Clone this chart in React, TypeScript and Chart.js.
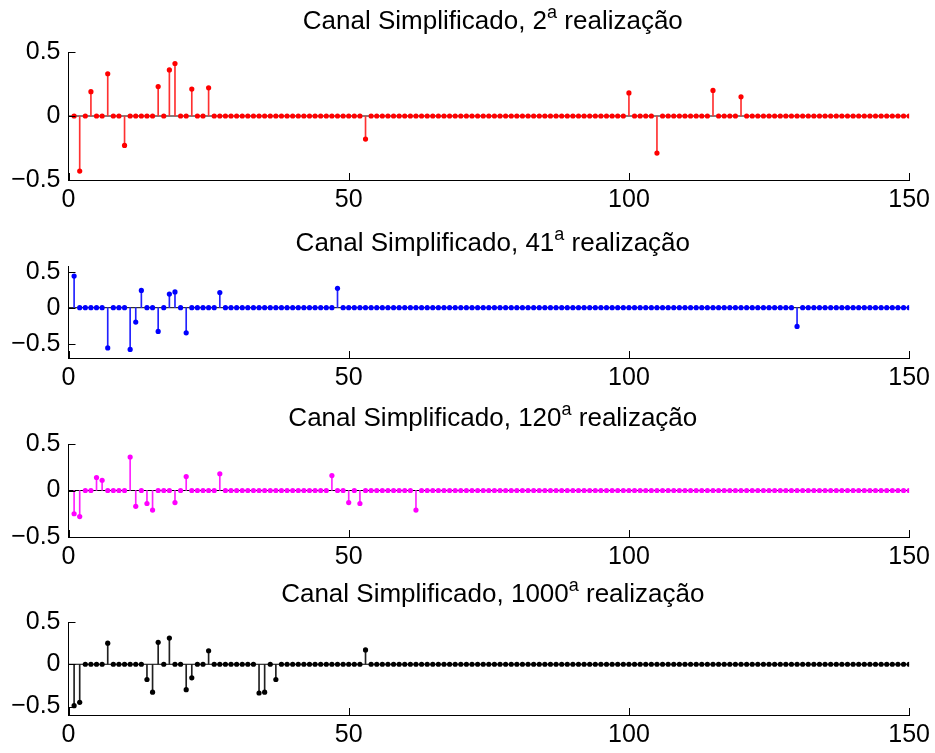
import React, { useEffect, useRef } from "react";
import { Chart, registerables } from "chart.js";

Chart.register(...registerables);

// ---------------- data ----------------
const N_TAPS = 150;
const X_TICKS = [0, 50, 100, 150];
const Y_TICKS = [-0.5, 0, 0.5];

const realizationLabels = ["2", "41", "120", "1000"];

// non-zero taps (index n, value); all other taps are 0
const r2Idx = [2, 4, 7, 10, 16, 18, 19, 22, 25, 53, 100, 105, 115, 120];
const r2Val = [-0.43, 0.19, 0.33, -0.23, 0.23, 0.36, 0.41, 0.21, 0.22, -0.18, 0.18, -0.29, 0.2, 0.15];

const r41Idx = [1, 7, 11, 12, 13, 16, 18, 19, 21, 27, 48, 130];
const r41Val = [0.44, -0.56, -0.58, -0.2, 0.24, -0.33, 0.19, 0.22, -0.35, 0.21, 0.27, -0.26];

const r120Idx = [1, 2, 5, 6, 11, 12, 14, 15, 19, 21, 27, 47, 50, 52, 62];
const r120Val = [-0.25, -0.28, 0.14, 0.11, 0.36, -0.17, -0.14, -0.21, -0.13, 0.15, 0.18, 0.16, -0.13, -0.14, -0.21];

const r1000Idx = [1, 2, 7, 14, 15, 16, 18, 21, 22, 25, 34, 35, 37, 53];
const r1000Val = [-0.49, -0.45, 0.25, -0.18, -0.33, 0.26, 0.31, -0.3, -0.16, 0.16, -0.34, -0.33, -0.18, 0.17];

const yLimits = [
  [-0.5, 0.5],
  [-0.7, 0.58],
  [-0.5, 0.5],
  [-0.6, 0.5],
];

// ---------------- styles / layout ----------------
const FONT = "'Liberation Sans', Arial, Helvetica, sans-serif";
const TICK_SIZE = 25;
const W = 935;
const H = 753;
const AXIS_W = 60;
const X_AXIS_H = 36;
const AREA_LEFT = 68.5;
const AREA_RIGHT = 910;

const panels = [
  { top: 52, bottom: 180, titleY: 20, color: "#ff0000", stem: "#ff3030" },
  { top: 266, bottom: 358, titleY: 242, color: "#0000ff", stem: "#2020ff" },
  { top: 444, bottom: 537, titleY: 417, color: "#ff00ff", stem: "#ff20ff" },
  { top: 622, bottom: 715, titleY: 593, color: "#000000", stem: "#202020" },
];

function toPoints(idx: number[], val: number[]) {
  const ys: number[] = new Array(N_TAPS).fill(0);
  idx.forEach((n, i) => {
    ys[n - 1] = val[i];
  });
  return ys.map((y, i) => ({ x: i + 1, y }));
}

const seriesList = [
  toPoints(r2Idx, r2Val),
  toPoints(r41Idx, r41Val),
  toPoints(r120Idx, r120Val),
  toPoints(r1000Idx, r1000Val),
];

const fmt = (v: number) => (v === 0 ? "0" : v < 0 ? "\u2212" + String(-v) : String(v));

function makeConfig(p: number): any {
  const panel = panels[p];
  const pts = seriesList[p];
  const [ymin, ymax] = yLimits[p];
  const label = realizationLabels[p];

  const decorPlugin = {
    id: "decor" + p,
    afterDraw(chart: any) {
      const ctx = chart.ctx;
      const xs = chart.scales.x;
      const ys = chart.scales.y;
      const area = chart.chartArea;
      ctx.save();
      ctx.strokeStyle = "#000";
      ctx.lineWidth = 1;
      // inward tick marks
      ctx.beginPath();
      X_TICKS.forEach((v) => {
        const px = Math.round(xs.getPixelForValue(v)) + 0.5;
        ctx.moveTo(px, area.bottom);
        ctx.lineTo(px, area.bottom - 7);
      });
      Y_TICKS.forEach((v) => {
        const py = Math.round(ys.getPixelForValue(v)) + 0.5;
        ctx.moveTo(area.left, py);
        ctx.lineTo(area.left + 7, py);
      });
      ctx.stroke();

      // title with superscript
      const size = 26;
      const supSize = 18;
      const t1 = "Canal Simplificado, " + label;
      const t2 = "a";
      const t3 = " realização";
      ctx.fillStyle = "#000";
      ctx.textBaseline = "alphabetic";
      ctx.font = `${size}px ${FONT}`;
      const w1 = ctx.measureText(t1).width;
      const w3 = ctx.measureText(t3).width;
      ctx.font = `${supSize}px ${FONT}`;
      const w2 = ctx.measureText(t2).width;
      const total = w1 + w2 + w3;
      const cx = (area.left + area.right) / 2 + 4;
      let x = cx - total / 2;
      const base = panel.titleY + size * 0.36;
      ctx.textAlign = "left";
      ctx.font = `${size}px ${FONT}`;
      ctx.fillText(t1, x, base);
      x += w1;
      ctx.font = `${supSize}px ${FONT}`;
      ctx.fillText(t2, x, base - size * 0.42);
      x += w2;
      ctx.font = `${size}px ${FONT}`;
      ctx.fillText(t3, x, base);
      ctx.restore();
    },
  };

  return {
    type: "scatter",
    data: {
      datasets: [
        {
          type: "line",
          data: [
            { x: 0, y: 0 },
            { x: N_TAPS, y: 0 },
          ],
          borderColor: "#000",
          borderWidth: 1,
          pointRadius: 0,
          order: 3,
        },
        {
          type: "bar",
          data: pts,
          backgroundColor: panel.stem,
          borderWidth: 0,
          barThickness: 1,
          order: 2,
        },
        {
          type: "scatter",
          data: pts,
          backgroundColor: panel.color,
          borderColor: panel.color,
          pointRadius: 2.6,
          borderWidth: 0,
          order: 1,
        },
      ],
    },
    options: {
      animation: false,
      responsive: false,
      maintainAspectRatio: false,
      events: [],
      layout: {
        padding: {
          left: AREA_LEFT - AXIS_W,
          right: W - AREA_RIGHT,
          top: panel.top,
          bottom: H - panel.bottom - X_AXIS_H,
        },
      },
      plugins: {
        legend: { display: false },
        tooltip: { enabled: false },
        title: { display: false },
      },
      scales: {
        x: {
          type: "linear",
          min: 0,
          max: N_TAPS,
          offset: false,
          grace: 0,
          grid: { display: false, drawTicks: false, offset: false },
          border: { display: true, color: "#000", width: 1 },
          afterBuildTicks: (s: any) => {
            s.ticks = X_TICKS.map((v) => ({ value: v }));
          },
          afterFit: (s: any) => {
            s.height = X_AXIS_H;
          },
          ticks: {
            color: "#000",
            font: { family: FONT, size: TICK_SIZE },
            padding: 5,
            maxRotation: 0,
            autoSkip: false,
            callback: (v: any) => fmt(Number(v)),
          },
        },
        y: {
          type: "linear",
          min: ymin,
          max: ymax,
          grid: { display: false, drawTicks: false },
          border: { display: true, color: "#000", width: 1 },
          afterBuildTicks: (s: any) => {
            s.ticks = Y_TICKS.map((v) => ({ value: v }));
          },
          afterFit: (s: any) => {
            s.width = AXIS_W;
          },
          ticks: {
            color: "#000",
            font: { family: FONT, size: TICK_SIZE },
            padding: 8,
            autoSkip: false,
            callback: (v: any) => fmt(Number(v)),
          },
        },
      },
    },
    plugins: [decorPlugin],
  };
}

function Panel({ index }: { index: number }) {
  const ref = useRef<HTMLCanvasElement | null>(null);
  useEffect(() => {
    if (!ref.current) return;
    const chart = new Chart(ref.current, makeConfig(index));
    return () => chart.destroy();
  }, [index]);
  return (
    <canvas
      ref={ref}
      width={W}
      height={H}
      style={{ position: "absolute", left: 0, top: 0, width: W, height: H }}
    />
  );
}

export default function App() {
  return (
    <div
      style={{
        position: "absolute",
        left: 0,
        top: 0,
        width: W,
        height: H,
        background: "#fff",
      }}
    >
      {panels.map((_, i) => (
        <Panel key={i} index={i} />
      ))}
    </div>
  );
}
